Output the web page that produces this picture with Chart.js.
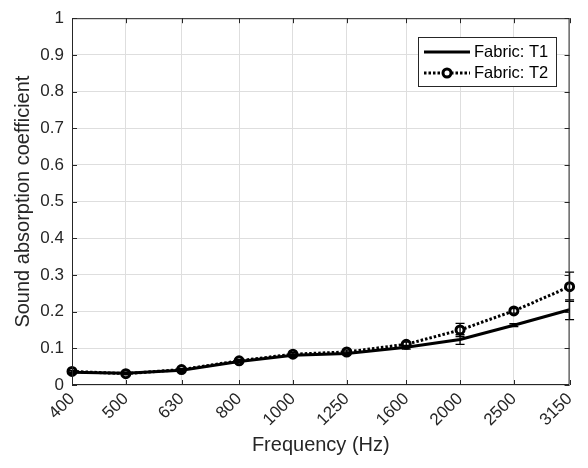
<!DOCTYPE html>
<html>
<head>
<meta charset="utf-8">
<script src="https://cdn.jsdelivr.net/npm/chart.js@4.4.1/dist/chart.umd.min.js"></script>
<style>
  html, body { margin: 0; padding: 0; background: #fff; }
  #wrap { position: relative; width: 588px; height: 468px; }
</style>
</head>
<body>
<div id="wrap"><canvas id="c" width="588" height="468"></canvas></div>
<script>
// data
const freqs = [400, 500, 630, 800, 1000, 1250, 1600, 2000, 2500, 3150];
const t1 = [0.035, 0.032, 0.040, 0.064, 0.081, 0.086, 0.103, 0.124, 0.163, 0.205];
const t1Err = [0.003, 0.003, 0.003, 0.003, 0.004, 0.004, 0.005, 0.013, 0.004, 0.027];
const t2 = [0.037, 0.031, 0.042, 0.066, 0.084, 0.090, 0.111, 0.150, 0.202, 0.268];
const t2Err = [0.003, 0.003, 0.003, 0.004, 0.004, 0.005, 0.006, 0.018, 0.006, 0.040];
const yTicks = [0, 0.1, 0.2, 0.3, 0.4, 0.5, 0.6, 0.7, 0.8, 0.9, 1];

const FONT = "'Liberation Sans', Arial, sans-serif";
const AXIS = "#262626";

const toPts = (vals) => vals.map((v, i) => ({ x: freqs[i], y: v }));

// error bars, box and inner ticks like matlab
const extras = {
    id: "extras",
    afterDatasetsDraw(chart) {
        const { ctx, scales: { x, y } } = chart;
        ctx.save();
        ctx.strokeStyle = "#000";
        ctx.lineWidth = 1.3;
        const bars = [[t1, t1Err], [t2, t2Err]];
        bars.forEach(([vals, errs]) => {
            vals.forEach((v, i) => {
                const px = x.getPixelForValue(freqs[i]);
                const top = y.getPixelForValue(v + errs[i]);
                const bot = y.getPixelForValue(v - errs[i]);
                ctx.beginPath();
                ctx.moveTo(px, top); ctx.lineTo(px, bot);
                ctx.moveTo(px - 4.5, top); ctx.lineTo(px + 4.5, top);
                ctx.moveTo(px - 4.5, bot); ctx.lineTo(px + 4.5, bot);
                ctx.stroke();
            });
        });
        ctx.restore();
    },
    afterDraw(chart) {
        const { ctx, chartArea: a, scales: { x, y } } = chart;
        ctx.save();
        ctx.strokeStyle = AXIS;
        ctx.lineWidth = 1;
        ctx.beginPath();
        ctx.rect(a.left + 0.5, a.top + 0.5, a.right - a.left - 1, a.bottom - a.top - 1);
        // inner ticks
        yTicks.forEach(v => {
            const py = Math.round(y.getPixelForValue(v)) + 0.5;
            ctx.moveTo(a.left, py); ctx.lineTo(a.left + 5, py);
            ctx.moveTo(a.right, py); ctx.lineTo(a.right - 5, py);
        });
        freqs.forEach(f => {
            const px = Math.round(x.getPixelForValue(f)) + 0.5;
            ctx.moveTo(px, a.bottom); ctx.lineTo(px, a.bottom - 5);
            ctx.moveTo(px, a.top); ctx.lineTo(px, a.top + 5);
        });
        ctx.stroke();

        // legend
        const lx = 418.5, ly = 37.5, lw = 138, lh = 49;
        ctx.fillStyle = "#fff";
        ctx.fillRect(lx, ly, lw, lh);
        ctx.strokeRect(lx, ly, lw, lh);
        ctx.strokeStyle = "#000";
        ctx.lineWidth = 3;
        ctx.beginPath();
        ctx.moveTo(424, 52); ctx.lineTo(470, 52);
        ctx.stroke();
        ctx.setLineDash([2.5, 2]);
        ctx.beginPath();
        ctx.moveTo(424, 73); ctx.lineTo(470, 73);
        ctx.stroke();
        ctx.setLineDash([]);
        ctx.beginPath();
        ctx.arc(447, 73, 4, 0, Math.PI * 2);
        ctx.fillStyle = "#fff";
        ctx.fill();
        ctx.stroke();
        ctx.fillStyle = "#000";
        ctx.font = "16.5px " + FONT;
        ctx.textBaseline = "middle";
        ctx.fillText("Fabric: T1", 474, 52);
        ctx.fillText("Fabric: T2", 474, 73);
        ctx.restore();
    }
};

new Chart(document.getElementById("c"), {
    type: "line",
    data: {
        datasets: [
            {
                label: "Fabric: T1",
                data: toPts(t1),
                borderColor: "#000",
                borderWidth: 3,
                pointRadius: 0,
                tension: 0,
                clip: false
            },
            {
                label: "Fabric: T2",
                data: toPts(t2),
                borderColor: "#000",
                borderWidth: 3,
                borderDash: [2.5, 2],
                pointRadius: 4,
                pointBorderWidth: 3,
                pointBackgroundColor: "#fff",
                pointBorderColor: "#000",
                tension: 0,
                clip: false
            }
        ]
    },
    options: {
        responsive: false,
        animation: false,
        layout: { padding: { top: 14, right: 11, left: 0, bottom: 0 } },
        plugins: {
            legend: { display: false },
            tooltip: { enabled: false }
        },
        scales: {
            x: {
                type: "logarithmic",
                min: 400,
                max: 3150,
                afterBuildTicks: (axis) => { axis.ticks = freqs.map(v => ({ value: v })); },
                afterFit: (axis) => { axis.height = 83; },
                ticks: {
                    autoSkip: false,
                    minRotation: 45,
                    maxRotation: 45,
                    padding: 4,
                    color: AXIS,
                    font: { family: FONT, size: 17 },
                    callback: (v) => String(v)
                },
                grid: { color: "#dedede", lineWidth: 1, tickLength: 0 },
                border: { display: false },
                title: {
                    display: true,
                    text: "Frequency (Hz)",
                    color: AXIS,
                    font: { family: FONT, size: 20 },
                    padding: { top: 0, bottom: 11 }
                }
            },
            y: {
                min: 0,
                max: 1,
                afterBuildTicks: (axis) => { axis.ticks = yTicks.map(v => ({ value: v })); },
                afterFit: (axis) => { axis.width = 72; },
                ticks: {
                    padding: 8,
                    color: AXIS,
                    font: { family: FONT, size: 17 },
                    callback: (v) => String(v)
                },
                grid: { color: "#dedede", lineWidth: 1, tickLength: 0 },
                border: { display: false },
                title: {
                    display: true,
                    text: "Sound absorption coefficient",
                    color: AXIS,
                    font: { family: FONT, size: 20 },
                    padding: { top: 11, bottom: 0 }
                }
            }
        }
    },
    plugins: [extras]
});
</script>
</body>
</html>
